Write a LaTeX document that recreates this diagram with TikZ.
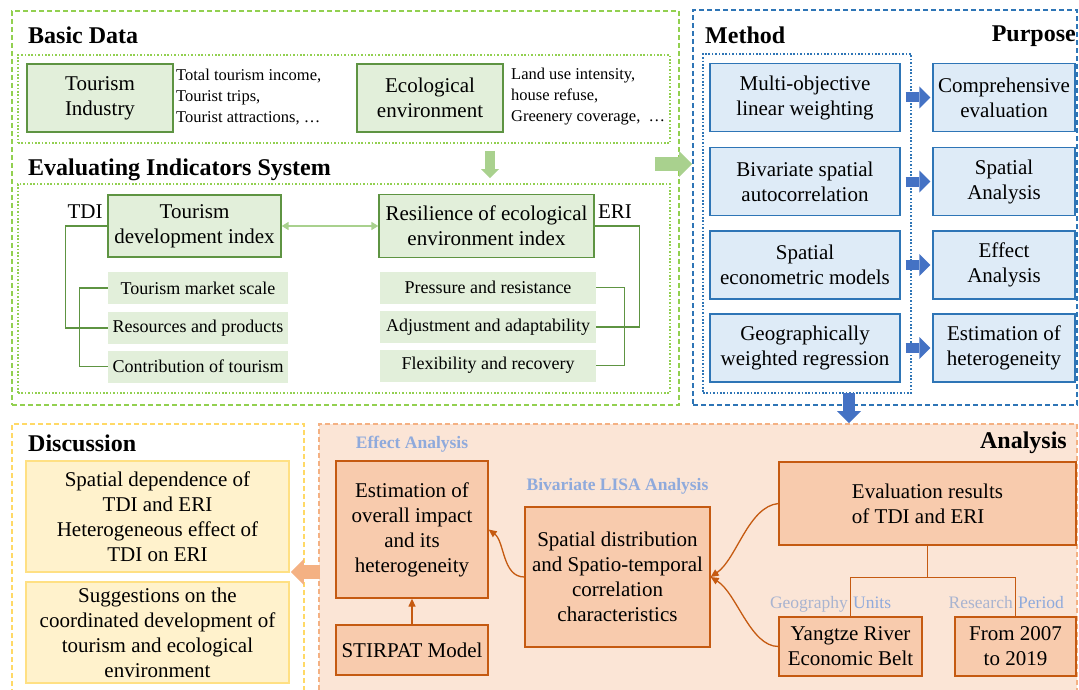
\documentclass[tikz,border=0pt]{standalone}
\usepackage{fontspec}
\setmainfont{Liberation Serif}
\usetikzlibrary{arrows.meta,positioning}
\definecolor{greendash}{HTML}{92D050}
\definecolor{greenline}{HTML}{5E9442}
\definecolor{greenfill}{HTML}{E2EFDA}
\definecolor{greenarrow}{HTML}{A9D18E}
\definecolor{bluedash}{HTML}{2E75B6}
\definecolor{blueline}{HTML}{2E75B6}
\definecolor{bluefill}{HTML}{DEEBF7}
\definecolor{bluearrow}{HTML}{4472C4}
\definecolor{yellowdash}{HTML}{FFD966}
\definecolor{yellowline}{HTML}{FFE083}
\definecolor{yellowfill}{HTML}{FFF2CC}
\definecolor{orangedash}{HTML}{F4B183}
\definecolor{orangebg}{HTML}{FBE5D6}
\definecolor{orangefill}{HTML}{F8CBAD}
\definecolor{orangeline}{HTML}{C55A11}
\definecolor{orangearrow}{HTML}{F4B183}
\definecolor{tagblue}{HTML}{8FAADC}
\definecolor{taggrey}{HTML}{A9B4D0}
\newcommand{\boxfont}{\fontsize{21}{25}\selectfont}
\newcommand{\headfont}{\fontsize{24}{28}\selectfont\bfseries}
\newcommand{\listfont}{\fontsize{16.5}{21}\selectfont}
\newcommand{\itemfont}{\fontsize{18}{21}\selectfont}
\newcommand{\tagfont}{\fontsize{17.5}{20}\selectfont}
\tikzset{
    panel/.style={draw,line width=1.8pt,dash pattern=on 5pt off 3pt,inner sep=0pt},
    dot panel/.style={draw,line width=1.6pt,dash pattern=on 1.6pt off 1.8pt,inner sep=0pt},
    head/.style={font=\headfont,anchor=west,inner sep=0pt},
    green box/.style={draw=greenline,fill=greenfill,line width=1.3pt,font=\boxfont,align=center,inner sep=1pt},
    item box/.style={fill=greenfill,font=\itemfont,inner sep=0pt,minimum height=32pt},
    list text/.style={font=\listfont,align=left,anchor=west,inner sep=0pt},
    blue box/.style={draw=blueline,fill=bluefill,line width=1.3pt,font=\boxfont,align=center,inner sep=1pt,minimum height=68pt},
    yellow box/.style={draw=yellowline,fill=yellowfill,line width=1.3pt,font=\boxfont,align=center,inner sep=1pt,minimum width=263pt},
    orange box/.style={draw=orangeline,fill=orangefill,line width=1.3pt,font=\boxfont,align=center,inner sep=1pt},
    tag text/.style={font=\tagfont,text=tagblue,inner sep=0pt},
    bracket/.style={draw=greenline,line width=1.3pt},
    branch/.style={draw=orangeline,line width=1.3pt},
    flow/.style={->,draw=orangeline,line width=1.3pt,>={Triangle[length=8pt,width=7pt]}},
    fat arrow/.style={-{Triangle[length=#1,width=2*#1,line width=0pt]}}
}

\begin{document}
\begin{tikzpicture}[x=1pt,y=-1pt]
                \path[use as bounding box,clip] (0,0) rectangle (1079,690);

                \node[panel,draw=greendash,minimum width=667pt,minimum height=394pt] (basic panel) at (345.5,208) {};
                \node[dot panel,draw=greendash,minimum width=652pt,minimum height=88pt] (basic data) at (344,99) {};
                \node[dot panel,draw=greendash,minimum width=652pt,minimum height=209pt] (indicator system) at (344,288.5) {};
                \node[panel,draw=bluedash,minimum width=384pt,minimum height=395pt] (method panel) at (885,207.5) {};
                \node[dot panel,draw=bluedash,minimum width=208pt,minimum height=339pt] (method column) at (807,223.5) {};
                \node[panel,draw=yellowdash,minimum width=292pt,minimum height=271pt] (discussion panel) at (158,559.5) {};
                \node[panel,draw=orangedash,fill=orangebg,minimum width=758pt,minimum height=271pt] (analysis panel) at (698,559.5) {};

                \node[head] (basic title) at (28,35) {Basic Data};
                \node[head] (system title) at (28,170) {Evaluating Indicators System};
                \node[head] (method title) at (705,35) {Method};
                \node[head,anchor=east] (purpose title) at (1076,36) {Purpose};
                \node[head] (discussion title) at (28,443) {Discussion};
                \node[head,anchor=east] (analysis title) at (1067,443) {Analysis};

                \node[green box,minimum width=146pt,minimum height=68pt] (tourism) at (100,98) {Tourism\\Industry};
                \node[list text] (tourism list) at (176,97) {Total tourism income,\\Tourist trips,\\Tourist attractions, …};
                \node[green box,minimum width=146pt,minimum height=68pt] (ecology) at (430,98) {Ecological\\environment};
                \node[list text] (ecology list) at (511,97) {Land use intensity,\\house refuse,\\Greenery coverage,\ \ …};

                \node[green box,minimum width=173pt,minimum height=62pt] (tdi) at (194.5,226) {Tourism\\development index};
                \node[font=\boxfont,inner sep=0pt] (tdi label) at (85,212) {TDI};
                \node[green box,minimum width=215pt,minimum height=63pt] (eri) at (486.5,226) {Resilience of ecological\\environment index};
                \node[font=\boxfont,inner sep=0pt] (eri label) at (615,212) {ERI};

                \node[item box,minimum width=180pt] (market) at (198,288) {Tourism market scale};
                \node[item box,minimum width=180pt] (resources) at (198,328) {Resources and products};
                \node[item box,minimum width=180pt] (contribution) at (198,366.5) {Contribution of tourism};
                \node[item box,minimum width=216pt] (pressure) at (488,287.5) {Pressure and resistance};
                \node[item box,minimum width=216pt] (adjustment) at (488,327) {Adjustment and adaptability};
                \node[item box,minimum width=216pt] (flexibility) at (488,365.5) {Flexibility and recovery};

                \draw[bracket] (tdi.west) -- ++(-42,0) |- (resources.west);
                \draw[bracket] (market.west) -- ++(-28,0) |- (contribution.west);
                \draw[bracket] (eri.east) -- ++(45,0) |- (adjustment.east);
                \draw[bracket] (pressure.east) -- ++(28,0) |- (flexibility.east);
                \draw[greenarrow,line width=1.5pt,{Triangle[length=7pt,width=8pt]}-{Triangle[length=7pt,width=8pt]}] (tdi.east) -- (eri.west);

                \node[blue box,minimum width=190pt] (method 1) at (805,97.5) {Multi-objective\\linear weighting};
                \node[blue box,minimum width=190pt] (method 2) at (805,181.5) {Bivariate spatial\\autocorrelation};
                \node[blue box,minimum width=190pt] (method 3) at (805,265) {Spatial\\econometric models};
                \node[blue box,minimum width=190pt] (method 4) at (805,348) {Geographically\\weighted regression};
                \node[blue box,minimum width=142pt] (purpose 1) at (1004,97.5) {Comprehensive\\evaluation};
                \node[blue box,minimum width=142pt] (purpose 2) at (1004,181.5) {Spatial\\Analysis};
                \node[blue box,minimum width=142pt] (purpose 3) at (1004,265) {Effect\\Analysis};
                \node[blue box,minimum width=142pt] (purpose 4) at (1004,348) {Estimation of\\heterogeneity};

                \draw[bluearrow,line width=10pt,fat arrow=11pt,shorten <=5pt,shorten >=2pt] (method 1) -- (purpose 1);
                \draw[bluearrow,line width=10pt,fat arrow=11pt,shorten <=5pt,shorten >=2pt] (method 2) -- (purpose 2);
                \draw[bluearrow,line width=10pt,fat arrow=11pt,shorten <=5pt,shorten >=2pt] (method 3) -- (purpose 3);
                \draw[bluearrow,line width=10pt,fat arrow=11pt,shorten <=5pt,shorten >=2pt] (method 4) -- (purpose 4);

                \draw[greenarrow,line width=10pt,fat arrow=9pt] ([shift={(146,7)}]basic data.south) -- ([shift={(146,-5)}]indicator system.north);
                \draw[greenarrow,line width=14pt,fat arrow=13pt] ([shift={(-25,-44)}]basic panel.east) -- ([shift={(0,-43.5)}]method panel.west);
                \draw[bluearrow,line width=12pt,fat arrow=12pt] ([shift={(-36,-13)}]method panel.south) -- ([shift={(151,0)}]analysis panel.north);

                \node[yellow box,minimum height=111pt] (dependence) at (157.5,516.5) {Spatial dependence of\\TDI and ERI\\Heterogeneous effect of\\TDI on ERI};
                \node[yellow box,minimum height=101pt] (suggestion) at (157.5,632.5) {Suggestions on the\\coordinated development of\\tourism and ecological\\environment};
                \draw[orangearrow,line width=14pt,fat arrow=13pt] ([shift={(2,12.5)}]analysis panel.west) -- ([shift={(-14,12.5)}]discussion panel.east);

                \node[orange box,minimum width=152pt,minimum height=137pt] (estimation) at (412,529.5) {Estimation of\\overall impact\\and its\\heterogeneity};
                \node[tag text,font=\tagfont\bfseries,above=8pt of estimation] (effect tag) {Effect Analysis};
                \node[orange box,minimum width=152pt,minimum height=50pt] (stirpat) at (412,650) {STIRPAT Model};
                \node[orange box,minimum width=185pt,minimum height=140pt] (distribution) at (617.5,577) {Spatial distribution\\and Spatio-temporal\\correlation\\characteristics};
                \node[tag text,font=\tagfont\bfseries,above=12pt of distribution] (lisa tag) {Bivariate LISA Analysis};
                \node[orange box,minimum width=297pt,minimum height=83pt,align=left] (evaluation) at (927.5,503.5) {Evaluation results\\of TDI and ERI};
                \node[orange box,minimum width=143pt,minimum height=59pt] (yangtze) at (850.5,646.5) {Yangtze River\\Economic Belt};
                \node[orange box,minimum width=121pt,minimum height=59pt] (period) at (1015.5,646.5) {From 2007\\to 2019};

                \node[tag text,text=taggrey,anchor=base east] (geography tag) at ([shift={(-2.5,-8)}]yangtze.north) {Geography};
                \node[tag text,anchor=base west] (units tag) at ([shift={(2.5,-8)}]yangtze.north) {Units};
                \node[tag text,text=taggrey,anchor=base east] (research tag) at ([shift={(-2.5,-8)}]period.north) {Research};
                \node[tag text,anchor=base west] (period tag) at ([shift={(2.5,-8)}]period.north) {Period};

                \draw[flow] (stirpat) -- (estimation);
                \draw[flow] (distribution.west) .. controls +(-22,0) and +(16,12) .. (estimation.east);
                \draw[flow] (evaluation.west) .. controls +(-30,3) and +(26,-18) .. (distribution.east);
                \draw[flow] (yangtze.west) .. controls +(-28,0) and +(26,16) .. (distribution.east);
                \draw[branch] (evaluation.south) -- ++(0,32);
                \draw[branch] (yangtze.north) |- ([shift={(0,32)}]evaluation.south) -| (period.north);

\end{tikzpicture}
\end{document}
